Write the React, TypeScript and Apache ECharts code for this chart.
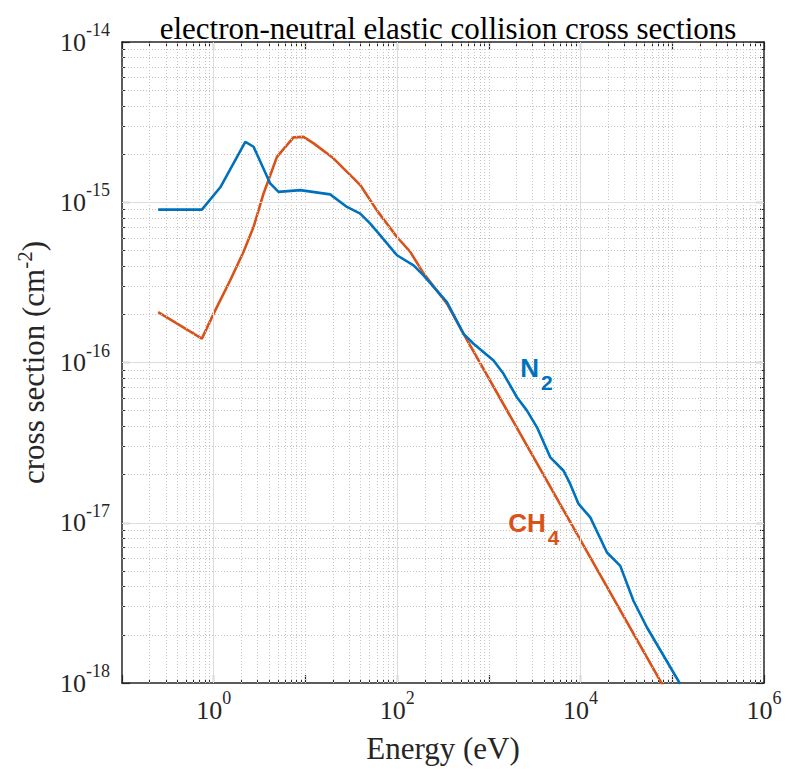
import React, { useEffect, useRef } from 'react';
import * as echarts from 'echarts';

// ---- data ----
const energyN2 = [0.248, 0.743, 1.18, 2.21, 2.72, 4.13, 5.09, 8.77, 18.6, 28.4, 39.6, 50.9, 65.5, 99.6, 151, 194, 349, 530, 681, 1125, 1445, 2023, 2604, 3348, 4674, 6531, 7727, 9510, 12760, 19400, 27100, 37800, 53000, 122000];
const sigmaN2 = [9.0e-16, 9.0e-16, 1.24e-15, 2.38e-15, 2.22e-15, 1.31e-15, 1.16e-15, 1.19e-15, 1.12e-15, 9.35e-16, 8.5e-16, 7.36e-16, 6.22e-16, 4.67e-16, 4.04e-16, 3.5e-16, 2.38e-16, 1.51e-16, 1.31e-16, 1.03e-16, 8.5e-17, 6.07e-17, 5.01e-17, 3.94e-17, 2.56e-17, 2.11e-17, 1.74e-17, 1.31e-17, 1.08e-17, 6.52e-18, 5.38e-18, 3.25e-18, 2.22e-18, 9.86e-19];

const energyCH4 = [0.248, 0.743, 0.995, 1.51, 2.11, 2.72, 3.49, 4.89, 7.41, 9.53, 12.3, 20.2, 33.5, 39.6, 60.2, 99.5, 139, 194, 349, 530, 100000];
const sigmaCH4 = [2.06e-16, 1.41e-16, 2.01e-16, 3.25e-16, 4.89e-16, 7.02e-16, 1.13e-15, 1.92e-15, 2.54e-15, 2.56e-15, 2.33e-15, 1.88e-15, 1.41e-15, 1.28e-15, 8.9e-16, 6.07e-16, 4.9e-16, 3.6e-16, 2.33e-16, 1.51e-16, 7.6e-19];

const xMin = 0.1;
const xMax = 1e6;
const yMin = 1e-18;
const yMax = 1e-14;

const xMajorGrid = [1, 100, 10000];
const xOddDecades = [10, 1000, 100000];
const xMinorDecades = [0.1, 1, 10, 100, 1000, 10000, 100000];
const yMajorGrid = [1e-17, 1e-16, 1e-15];
const yMinorDecades = [1e-18, 1e-17, 1e-16, 1e-15];
const minorMultipliers = [2, 3, 4, 5, 6, 7, 8, 9];

const labelN2 = { energy: 2200, sigma: 9.3e-17 };
const labelCH4 = { energy: 1629, sigma: 9.9e-18 };

const titleText = 'electron-neutral elastic collision cross sections';
const xName = 'Energy (eV)';

const BLUE = '#0072BD';
const ORANGE = '#D95319';
const AXIS = '#262626';
const SERIF = 'Times';
const SANS = 'Arial';

function expOf(v: number) {
  return Math.round(Math.log10(v));
}

const tickRich = {
  b: { fontFamily: SERIF, fontSize: 26, lineHeight: 26, color: AXIS, verticalAlign: 'bottom' as const },
  s: { fontFamily: SERIF, fontSize: 18, lineHeight: 18, color: AXIS, verticalAlign: 'bottom' as const, padding: [0, 0, 16, 0] },
};

export default function App() {
  const ref = useRef<HTMLDivElement>(null);

  useEffect(() => {
    if (!ref.current) return;
    const chart = echarts.init(ref.current, null, { renderer: 'svg' });

    const minorStyle = { color: '#c4c4c4', width: 1, type: [1, 2] as any };
    const majorStyle = { color: '#dcdcdc', width: 1, type: 'solid' as const };

    const vLine = (v: number, style: any) => [
      { coord: [v, yMin], lineStyle: style },
      { coord: [v, yMax] },
    ];
    const hLine = (v: number, style: any) => [
      { coord: [xMin, v], lineStyle: style },
      { coord: [xMax, v] },
    ];

    const gridLines: any[] = [];
    xMinorDecades.forEach((d) => minorMultipliers.forEach((m) => gridLines.push(vLine(m * d, minorStyle))));
    xOddDecades.forEach((v) => gridLines.push(vLine(v, minorStyle)));
    yMinorDecades.forEach((d) => minorMultipliers.forEach((m) => gridLines.push(hLine(m * d, minorStyle))));
    xMajorGrid.forEach((v) => gridLines.push(vLine(v, majorStyle)));
    yMajorGrid.forEach((v) => gridLines.push(hLine(v, majorStyle)));

    const axisCommon = {
      type: 'log' as const,
      logBase: 10,
      interval: 1,
      splitLine: { show: false },
      axisLine: { show: true, onZero: false, lineStyle: { color: AXIS, width: 1.5 } },
      axisTick: { show: true, inside: true, length: 8, lineStyle: { color: AXIS, width: 1.2 } },
      minorTick: { show: true, splitNumber: 9, length: 4, lineStyle: { color: AXIS, width: 1 } },
      minorSplitLine: { show: false },
    };
    const baseX = { ...axisCommon, min: xMin, max: xMax };
    const baseY = { ...axisCommon, min: yMin, max: yMax };

    chart.setOption({
      animation: false,
      backgroundColor: '#ffffff',
      textStyle: { fontFamily: SERIF },
      title: {
        text: titleText,
        left: 443,
        top: 8,
        textAlign: 'center',
        textStyle: { fontFamily: SERIF, fontSize: 31, fontWeight: 'normal', color: '#000000' },
      },
      grid: { left: 122, right: 22, top: 42, bottom: 89, containLabel: false },
      xAxis: [
        {
          ...baseX,
          position: 'bottom',
          name: xName,
          nameLocation: 'middle',
          nameGap: 50,
          nameTextStyle: { fontFamily: SERIF, fontSize: 31, color: AXIS },
          axisLabel: {
            show: true,
            margin: 14,
            fontFamily: SERIF,
            fontSize: 26,
            color: AXIS,
            formatter: (v: number) => {
              const e = expOf(v);
              if (e < 0 || e % 2 !== 0) return '';
              return `{b|10}{s|${e}}`;
            },
            rich: tickRich,
          },
        },
        {
          ...baseX,
          position: 'top',
          axisLabel: { show: false },
        },
      ],
      yAxis: [
        {
          ...baseY,
          position: 'left',
          name: '{t|cross section (cm}{s|-2}{t|)}',
          nameLocation: 'middle',
          nameGap: 62,
          nameTextStyle: {
            fontFamily: SERIF,
            fontSize: 31,
            color: AXIS,
            rich: {
              t: { fontFamily: SERIF, fontSize: 31, lineHeight: 31, color: AXIS, verticalAlign: 'bottom' },
              s: { fontFamily: SERIF, fontSize: 21, lineHeight: 21, color: AXIS, verticalAlign: 'bottom', padding: [0, 0, 14, 0] },
            },
          },
          axisLabel: {
            show: true,
            margin: 12,
            fontFamily: SERIF,
            fontSize: 26,
            color: AXIS,
            formatter: (v: number) => `{b|10}{s|${expOf(v)}}`,
            rich: tickRich,
          },
        },
        {
          ...baseY,
          position: 'right',
          axisLabel: { show: false },
        },
      ],
      series: [
        {
          type: 'line',
          name: 'grid',
          data: [],
          silent: true,
          z: 1,
          markLine: {
            silent: true,
            symbol: ['none', 'none'],
            label: { show: false },
            animation: false,
            data: gridLines,
          },
        },
        {
          type: 'line',
          name: 'N2',
          data: energyN2.map((e, i) => [e, sigmaN2[i]]),
          showSymbol: false,
          symbol: 'none',
          clip: true,
          z: 5,
          lineStyle: { color: BLUE, width: 2.6 },
          itemStyle: { color: BLUE },
          markPoint: {
            silent: true,
            symbol: 'circle',
            symbolSize: 0,
            animation: false,
            label: {
              show: true,
              position: 'right',
              distance: 0,
              fontFamily: SANS,
              fontWeight: 'bold',
              fontSize: 26,
              color: BLUE,
              formatter: '{n|N}{s|2}',
              rich: {
                n: { fontFamily: SANS, fontWeight: 'bold', fontSize: 26, lineHeight: 26, color: BLUE, verticalAlign: 'top' },
                s: { fontFamily: SANS, fontWeight: 'bold', fontSize: 21, lineHeight: 21, color: BLUE, verticalAlign: 'top', padding: [17, 0, 0, 2] },
              },
            },
            data: [{ coord: [labelN2.energy, labelN2.sigma] }],
          },
        },
        {
          type: 'line',
          name: 'CH4',
          data: energyCH4.map((e, i) => [e, sigmaCH4[i]]),
          showSymbol: false,
          symbol: 'none',
          clip: true,
          z: 4,
          lineStyle: { color: ORANGE, width: 2.6 },
          itemStyle: { color: ORANGE },
          markPoint: {
            silent: true,
            symbol: 'circle',
            symbolSize: 0,
            animation: false,
            label: {
              show: true,
              position: 'right',
              distance: 0,
              fontFamily: SANS,
              fontWeight: 'bold',
              fontSize: 26,
              color: ORANGE,
              formatter: '{n|CH}{s|4}',
              rich: {
                n: { fontFamily: SANS, fontWeight: 'bold', fontSize: 26, lineHeight: 26, color: ORANGE, verticalAlign: 'top' },
                s: { fontFamily: SANS, fontWeight: 'bold', fontSize: 21, lineHeight: 21, color: ORANGE, verticalAlign: 'top', padding: [17, 0, 0, 2] },
              },
            },
            data: [{ coord: [labelCH4.energy, labelCH4.sigma] }],
          },
        },
      ],
    });

    return () => chart.dispose();
  }, []);

  return (
    <div
      ref={ref}
      style={{ position: 'fixed', left: 0, top: 0, width: 786, height: 772, background: '#ffffff' }}
    />
  );
}
